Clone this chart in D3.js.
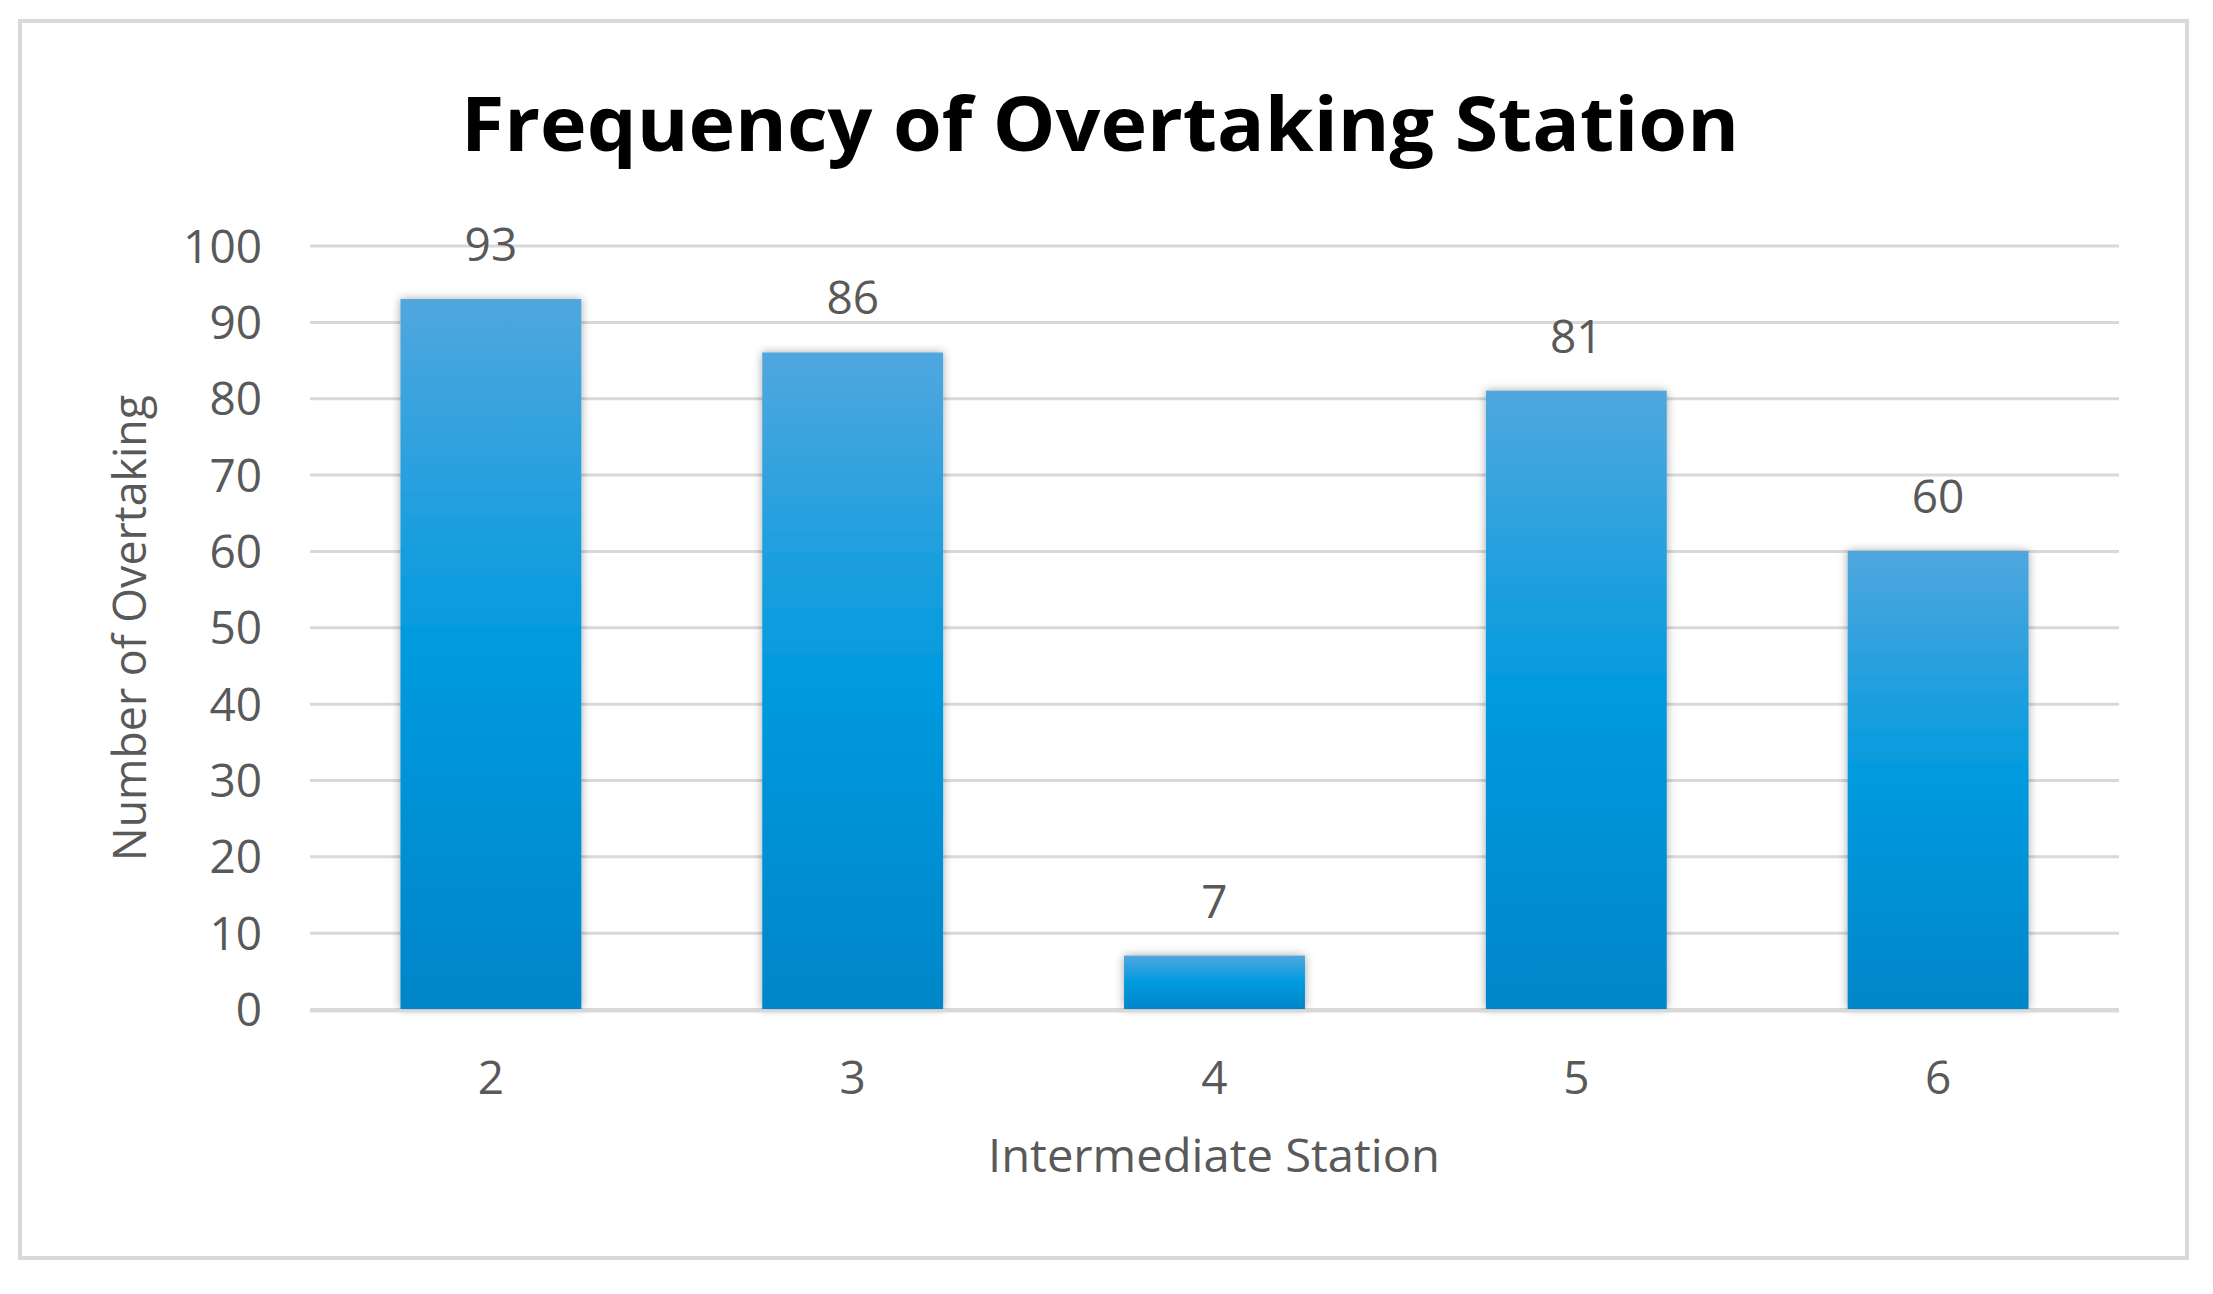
<!DOCTYPE html>
<html><head><meta charset="utf-8">
<script src="https://cdn.jsdelivr.net/npm/d3@7"></script>
<style>html,body{margin:0;padding:0;background:#fff;}</style>
</head><body>
<svg id="chart" width="2213" height="1294"></svg>
<script>
const categories = ["2", "3", "4", "5", "6"];
const values = [93, 86, 7, 81, 60];
const yTicks = [0, 10, 20, 30, 40, 50, 60, 70, 80, 90, 100];
const titleText = "Frequency of Overtaking Station";
const xTitle = "Intermediate Station";
const yTitle = "Number of Overtaking";

const svg = d3.select("#chart");
const W = 2213, H = 1294;
const plot = {left: 310, right: 2119, top: 245.6, bottom: 1009};
const font = "'Open Sans', 'Noto Sans', sans-serif";
const grey = "#595959";

svg.append("rect").attr("x", 0).attr("y", 0).attr("width", W).attr("height", H).attr("fill", "#fff");
svg.append("rect").attr("x", 20).attr("y", 21).attr("width", 2167).attr("height", 1237)
  .attr("fill", "#fff").attr("stroke", "#d9d9d9").attr("stroke-width", 4);

const defs = svg.append("defs");
const grad = defs.append("linearGradient").attr("id", "barGrad").attr("x1", 0).attr("y1", 0).attr("x2", 0).attr("y2", 1);
grad.append("stop").attr("offset", "0%").attr("stop-color", "#50a7de");
grad.append("stop").attr("offset", "50%").attr("stop-color", "#009ade");
grad.append("stop").attr("offset", "100%").attr("stop-color", "#0086c9");
const filt = defs.append("filter").attr("id", "shadow").attr("x", "-20%").attr("y", "-20%").attr("width", "140%").attr("height", "140%");
filt.append("feDropShadow").attr("dx", 0).attr("dy", 0).attr("stdDeviation", 5).attr("flood-color", "#000").attr("flood-opacity", 0.35);

const x = d3.scaleBand().domain(categories).range([plot.left, plot.right]).paddingInner(0.5).paddingOuter(0.25);
const y = d3.scaleLinear().domain([0, 100]).range([plot.bottom, plot.top]);

// gridlines via axis
const yAxis = d3.axisLeft(y).tickValues(yTicks).tickSize(-(plot.right - plot.left)).tickPadding(48);
const gy = svg.append("g").attr("transform", `translate(${plot.left},0)`).call(yAxis);
gy.select(".domain").remove();
gy.selectAll(".tick line").attr("stroke", "#d9d9d9").attr("stroke-width", 3);
gy.selectAll(".tick text").attr("fill", grey).attr("font-family", font).attr("font-size", 46).attr("dy", "0.36em");

// bars
svg.append("g").selectAll("rect").data(values).join("rect")
  .attr("x", (d, i) => x(categories[i]))
  .attr("y", d => y(d))
  .attr("width", x.bandwidth())
  .attr("height", d => y(0) - y(d))
  .attr("fill", "url(#barGrad)")
  .attr("filter", "url(#shadow)");

// zero line on top of shadow
svg.append("line").attr("x1", plot.left).attr("x2", plot.right).attr("y1", y(0) + 2).attr("y2", y(0) + 2)
  .attr("stroke", "#d9d9d9").attr("stroke-width", 3);

// data labels
svg.append("g").selectAll("text").data(values).join("text")
  .attr("x", (d, i) => x(categories[i]) + x.bandwidth() / 2)
  .attr("y", d => y(d) - 38)
  .attr("text-anchor", "middle")
  .attr("fill", grey).attr("font-family", font).attr("font-size", 46)
  .text(d => d);

// x axis
const xAxis = d3.axisBottom(x).tickSize(0).tickPadding(52);
const gx = svg.append("g").attr("transform", `translate(0,${plot.bottom})`).call(xAxis);
gx.select(".domain").remove();
gx.selectAll(".tick text").attr("fill", grey).attr("font-family", font).attr("font-size", 46);

// title
svg.append("text").attr("x", 1100).attr("y", 151).attr("text-anchor", "middle")
  .attr("font-family", font).attr("font-weight", 700).attr("font-size", 76).attr("fill", "#000")
  .attr("textLength", 1278).attr("lengthAdjust", "spacingAndGlyphs")
  .text(titleText);

// axis titles
svg.append("text").attr("x", 1214).attr("y", 1172).attr("text-anchor", "middle")
  .attr("font-family", font).attr("font-size", 46).attr("fill", grey)
  .attr("textLength", 452).attr("lengthAdjust", "spacingAndGlyphs").text(xTitle);

svg.append("text").attr("transform", "translate(146,628) rotate(-90)").attr("text-anchor", "middle")
  .attr("font-family", font).attr("font-size", 46).attr("fill", grey)
  .attr("textLength", 466).attr("lengthAdjust", "spacingAndGlyphs").text(yTitle);
</script>
</body></html>
